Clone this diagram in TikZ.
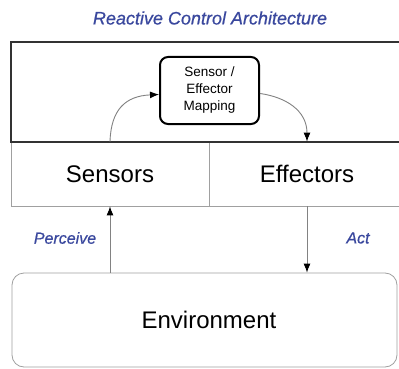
\documentclass[tikz,border=0pt]{standalone}
\usepackage{fontspec}
\setmainfont{Liberation Sans}
\newfontfamily\lblfont[FakeBold=0.6]{Liberation Sans}
\usetikzlibrary{arrows.meta}
\definecolor{titleblue}{RGB}{58,72,158}
\definecolor{boxgray}{RGB}{160,160,160}
\definecolor{linegray}{RGB}{130,130,130}
\definecolor{darkframe}{RGB}{50,50,50}
\tikzset{
  lbl/.style={font=\lblfont\itshape\fontsize{16}{18}\selectfont, text=titleblue},
  part/.style={draw=boxgray, line width=0.8pt, minimum width=198pt, minimum height=64pt, inner sep=0pt, font=\fontsize{24}{28}\selectfont},
  conn/.style={draw=linegray, line width=0.9pt},
  tip/.style={-{Latex[length=9pt,width=7pt,color=black]}}
}
\begin{document}
\begin{tikzpicture}[x=1pt,y=-1pt]
\clip (0,0) rectangle (399,369);
\fill[white] (0,0) rectangle (399,369);
\node[lbl, font=\lblfont\itshape\fontsize{18}{20}\selectfont] (title) at (210,18) {Reactive Control Architecture};
\node[part] (sens) at (110,174) {Sensors};
\node[part, minimum width=196pt] (eff) at (307,174) {Effectors};
\node[draw=darkframe, line width=2.4pt, minimum width=393pt, minimum height=100pt, inner sep=0pt] (ctrl) at (207.5,92) {};
\node[draw=black, line width=2pt, rounded corners=8pt, minimum width=99pt, minimum height=67pt, inner sep=0pt, align=center, font=\fontsize{13.5}{17}\selectfont] (map) at (209.5,90.5) {Sensor /\\Effector\\Mapping};
\node[draw=boxgray, line width=0.8pt, rounded corners=12pt, minimum width=385pt, minimum height=94pt, inner sep=0pt, font=\fontsize{24}{28}\selectfont] (env) at (204.5,320) {\hspace{9pt}Environment};
\draw[conn, tip] (sens.north) .. controls (111,110) and (125,96) .. ([yshift=-4pt]map.west);
\draw[conn, tip] ([yshift=-3pt]map.east) .. controls (285,97) and (307,110) .. (eff.north);
\draw[conn, tip] (env.north -| sens.south) -- (sens.south);
\draw[conn, tip] (eff.south) -- (eff.south |- env.north);
\node[lbl] (perc) at (65,238) {Perceive};
\node[lbl] (act) at (358,238) {Act};
\end{tikzpicture}
\end{document}
